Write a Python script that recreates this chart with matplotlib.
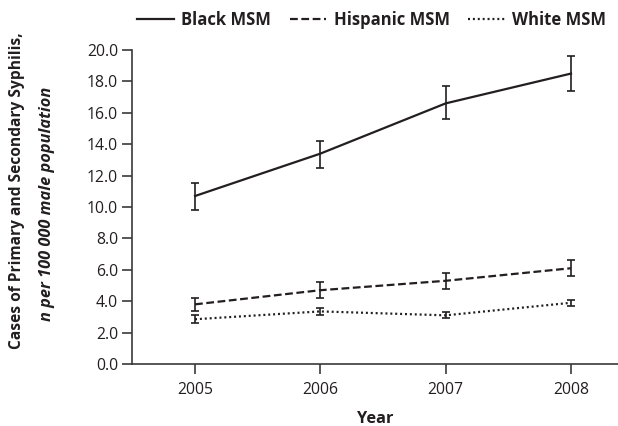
import matplotlib
matplotlib.use("Agg")
import matplotlib.pyplot as plt

years = [2005, 2006, 2007, 2008]
black = [10.7, 13.4, 16.6, 18.5]
black_lo = [9.8, 12.5, 15.6, 17.4]
black_hi = [11.5, 14.2, 17.7, 19.6]
hisp = [3.8, 4.7, 5.3, 6.1]
hisp_lo = [3.4, 4.2, 4.8, 5.6]
hisp_hi = [4.2, 5.2, 5.8, 6.6]
white = [2.85, 3.35, 3.1, 3.9]
white_lo = [2.6, 3.1, 2.9, 3.7]
white_hi = [3.1, 3.55, 3.3, 4.1]
yticks = [0, 2, 4, 6, 8, 10, 12, 14, 16, 18, 20]

plt.rcParams['font.family'] = ['Open Sans', 'DejaVu Sans']
col = '#231f20'

fig = plt.figure(figsize=(6.18, 4.26), dpi=100)
ax = fig.add_axes([132/618, 62/426, (618-132)/618, (364-50)/426])

series = [
    ("Black MSM", black, black_lo, black_hi, '-'),
    ("Hispanic MSM", hisp, hisp_lo, hisp_hi, (0, (3.5, 1.6))),
    ("White MSM", white, white_lo, white_hi, (0, (0.9, 1.3))),
]
handles = []
for name, v, lo, hi, ls in series:
    err = [[a - b for a, b in zip(v, lo)], [c - a for a, c in zip(v, hi)]]
    ax.errorbar(years, v, yerr=err, fmt='none', ecolor=col, elinewidth=1.2,
                capsize=3, capthick=1.2, zorder=3)
    ln, = ax.plot(years, v, color=col, linestyle=ls, linewidth=1.6, label=name, zorder=2)
    handles.append(ln)

ax.set_xlim(2004.497, 2008.375)
ax.set_ylim(0, 20)
ax.set_xticks(years)
ax.set_yticks(yticks)
ax.set_yticklabels([f"{t:.1f}" for t in yticks])
for s in ['top', 'right']:
    ax.spines[s].set_visible(False)
for s in ['left', 'bottom']:
    ax.spines[s].set_color('#3a3a3a')
    ax.spines[s].set_linewidth(1.2)
ax.tick_params(axis='both', direction='out', length=7, width=1.2, color='#3a3a3a',
               labelsize=11.3, labelcolor=col, pad=3)
ax.tick_params(axis='x', pad=6)
ax.set_xlabel("Year", fontsize=11.8, fontweight='bold', color=col, labelpad=9)

fig.text(17/618, 1 - 191/426, "Cases of Primary and Secondary Syphilis,", rotation=90,
         ha='center', va='center', fontsize=11.2, fontweight='bold', color=col)
fig.text(47/618, 1 - 204/426, "n per 100 000 male population", rotation=90,
         ha='center', va='center', fontsize=11.8, fontweight='bold', style='italic', color=col)

leg = fig.legend(handles=handles, loc='center right', bbox_to_anchor=(1.0, 1 - 20/426),
                 ncol=3, frameon=False, handlelength=2.2, handletextpad=0.45,
                 columnspacing=1.1, borderaxespad=0.3, prop={'size': 12, 'weight': 'bold'})
for t in leg.get_texts():
    t.set_color(col)

fig.savefig("out.png", dpi=100)
